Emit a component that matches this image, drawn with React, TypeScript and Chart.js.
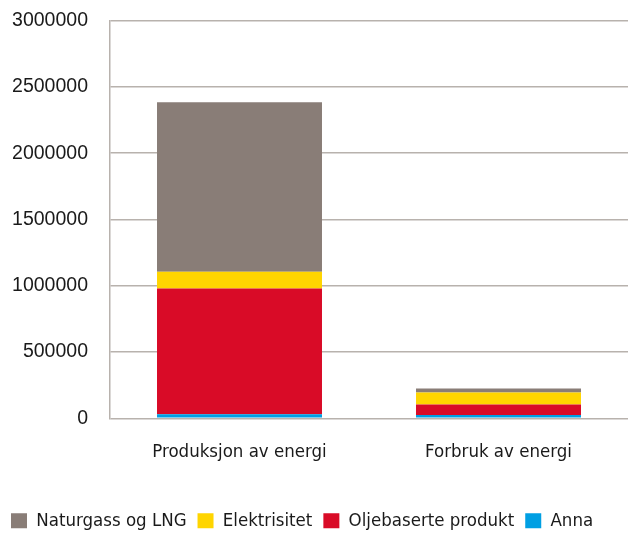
import React, { useEffect, useRef } from "react";
import { Chart, registerables } from "chart.js";

Chart.register(...registerables);

const categories = ["Produksjon av energi", "Forbruk av energi"];
const anna = [30000, 25000];
const oljebaserte = [950000, 80000];
const elektrisitet = [125000, 90000];
const naturgass = [1280000, 30000];
const yTicks = [0, 500000, 1000000, 1500000, 2000000, 2500000, 3000000];

const condensed = "'Liberation Sans Narrow', 'DejaVu Sans Condensed', Roboto, sans-serif";

export default function App() {
  const ref = useRef<HTMLCanvasElement>(null);
  useEffect(() => {
    const ctx = ref.current!;
    const chart = new Chart(ctx, {
      type: "bar",
      data: {
        labels: categories,
        datasets: [
          { label: "Anna", data: anna, backgroundColor: "#009fe3" },
          { label: "Oljebaserte produkt", data: oljebaserte, backgroundColor: "#d90b27" },
          { label: "Elektrisitet", data: elektrisitet, backgroundColor: "#ffd500" },
          { label: "Naturgass og LNG", data: naturgass, backgroundColor: "#897d77" },
        ],
      },
      options: {
        animation: false,
        responsive: false,
        maintainAspectRatio: false,
        layout: { padding: { left: 0, right: 1, top: 0, bottom: -6 } },
        datasets: { bar: { barPercentage: 0.637, categoryPercentage: 1 } },
        plugins: {
          tooltip: { enabled: false },
          legend: {
            position: "bottom",
            align: "start",
            reverse: true,
            labels: {
              boxWidth: 16,
              boxHeight: 15,
              padding: 11,
              color: "#1a1a1a",
              font: { family: condensed, size: 18.5 },
            },
          },
        },
        scales: {
          x: {
            stacked: true,
            grid: { display: false, drawTicks: false },
            border: { display: false },
            afterFit: (axis: any) => {
              axis.height += 14;
            },
            ticks: {
              color: "#1a1a1a",
              padding: 23,
              font: { family: condensed, size: 18.5 },
            },
          },
          y: {
            stacked: true,
            min: 0,
            max: 3000000,
            afterBuildTicks: (axis: any) => {
              axis.ticks = yTicks.map((v) => ({ value: v }));
            },
            afterFit: (axis: any) => {
              axis.width = 110;
            },
            grid: { color: "#b8b2ad", lineWidth: 1.5, drawTicks: false },
            border: { display: true, color: "#b8b2ad", width: 1.5 },
            ticks: {
              color: "#1a1a1a",
              padding: 22,
              callback: (v: any) => String(v),
              font: { family: "'Liberation Sans', Arial, sans-serif", size: 19.5 },
            },
          },
        },
      },
    });
    return () => chart.destroy();
  }, []);
  return (
    <div style={{ position: "fixed", left: 0, top: -13, width: 629, height: 547, background: "#fff" }}>
      <canvas ref={ref} width={629} height={547} style={{ width: 629, height: 547, display: "block" }} />
    </div>
  );
}
